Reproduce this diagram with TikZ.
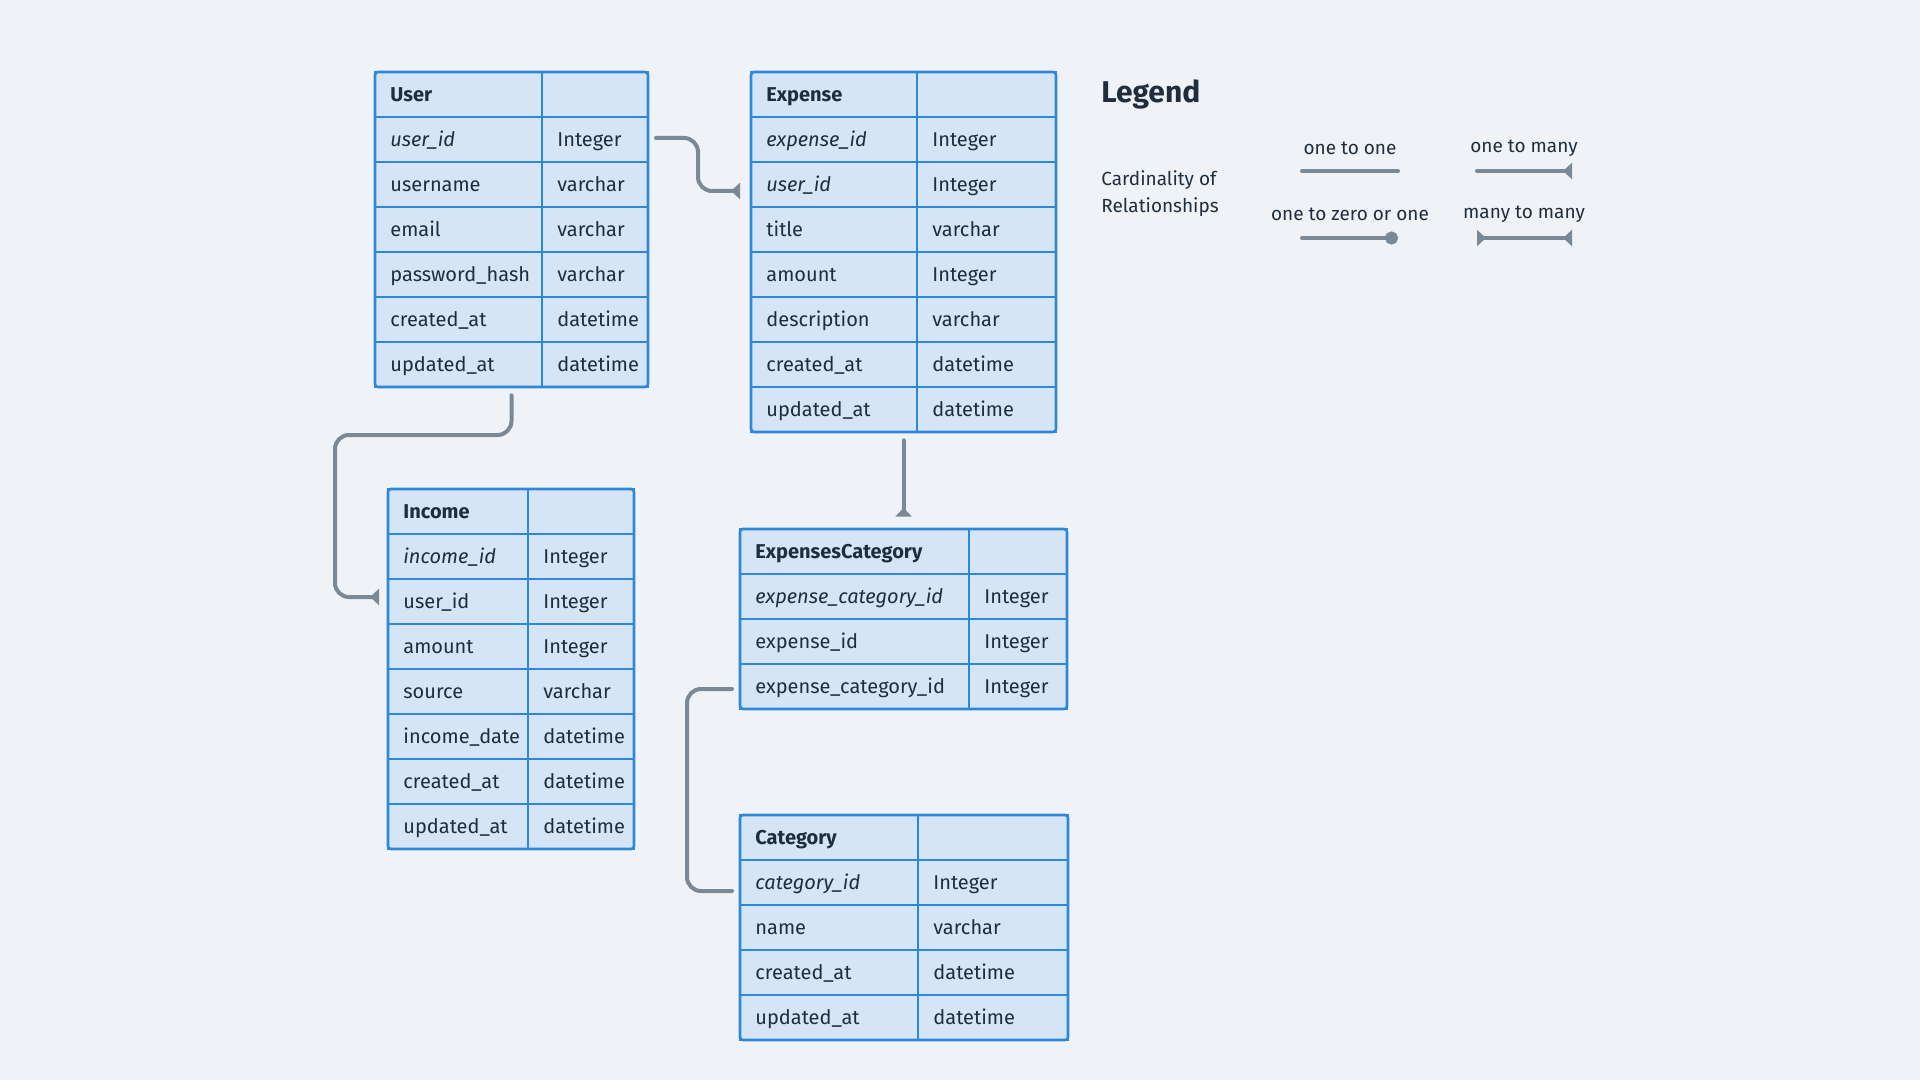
\documentclass[tikz,border=0pt]{standalone}
\usepackage{fontspec}
\setmainfont{Fira Sans}
\usetikzlibrary{arrows.meta,calc,fit}
\definecolor{bg}{HTML}{EFF3F7}
\definecolor{cellfill}{HTML}{D5E5F5}
\definecolor{cellline}{HTML}{2E88D8}
\definecolor{ink}{HTML}{1F2D3D}
\definecolor{conn}{HTML}{7B8896}
\tikzset{
  cell/.style={draw=cellline, fill=cellfill, line width=1pt, minimum height=22.5pt, inner sep=0pt, outer sep=0pt, anchor=north west},
  celltext/.style={anchor=west, inner sep=0pt, text=ink, text height=7.3pt, text depth=2.1pt, font=\fontsize{10}{12}\selectfont},
  frame/.style={draw=cellline, line width=1.3pt, rounded corners=1.5pt, inner sep=0pt},
  link/.style={draw=conn, line width=2pt, line cap=round, rounded corners=7pt},
  manytip/.tip={Triangle[reversed,length=4.5pt,width=8pt]},
  manyend/.style={-manytip},
  legtext/.style={text=ink, inner sep=0pt, font=\fontsize{9.5}{13.5}\selectfont},
}
% id, x, y, w1, w2, last index, rows
\newcommand\ertable[7]{%
  \foreach [count=\i from 0] \fa/\fb in {#7} {
    \node[cell, minimum width=#4] (#1-\i-a) at (#2, {#3+45*\i}) {};
    \node[cell, minimum width=#5] (#1-\i-b) at (#1-\i-a.north east) {};
    \node[celltext] (#1-\i-at) at ($(#1-\i-a.west)+(15,2)$) {\fa};
    \node[celltext] (#1-\i-bt) at ($(#1-\i-b.west)+(15,2)$) {\fb};
  }
  \node[frame, fit=(#1-0-a)(#1-#6-b)] (#1) {};
}
\begin{document}
\begin{tikzpicture}[x=0.5pt, y=-0.5pt]
\fill[bg] (0,0) rectangle (1920,1080);
\useasboundingbox (0,0) rectangle (1920,1080);

\ertable{User}{375}{72}{83.5pt}{53pt}{6}{%
  {\textbf{User}}/{},
  {\textit{user\_id}}/Integer,
  username/varchar,
  email/varchar,
  {password\_hash}/varchar,
  {created\_at}/datetime,
  {updated\_at}/datetime}

\ertable{Expense}{751}{72}{83pt}{69.5pt}{7}{%
  {\textbf{Expense}}/{},
  {\textit{expense\_id}}/Integer,
  {\textit{user\_id}}/Integer,
  title/varchar,
  amount/Integer,
  description/varchar,
  {created\_at}/datetime,
  {updated\_at}/datetime}

\ertable{Income}{388}{489}{70pt}{53pt}{7}{%
  {\textbf{Income}}/{},
  {\textit{income\_id}}/Integer,
  {user\_id}/Integer,
  amount/Integer,
  source/varchar,
  {income\_date}/datetime,
  {created\_at}/datetime,
  {updated\_at}/datetime}

\ertable{ExpCat}{740}{529}{114.5pt}{49pt}{3}{%
  {\textbf{ExpensesCategory}}/{},
  {\textit{expense\_category\_id}}/Integer,
  {expense\_id}/Integer,
  {expense\_category\_id}/Integer}

\ertable{Category}{740}{815}{89pt}{75pt}{4}{%
  {\textbf{Category}}/{},
  {\textit{category\_id}}/Integer,
  name/varchar,
  {created\_at}/datetime,
  {updated\_at}/datetime}

% connectors
\draw[link, manyend] ($(User-1-b.east)+(8,-1.5)$) -| ($($(User-1-b.east)+(8,-1.5)$)!0.5!($(Expense-2-a.west)+(-11,6.5)$)$) |- ($(Expense-2-a.west)+(-11,6.5)$);
\draw[link, manyend] ($(User.south)+(0,7)$) |- ($(Income-2-a.west)+(-53,-166.5)$) |- ($(Income-2-a.west)+(-9,-4.5)$);
\draw[link, manyend] ($(Expense.south)+(0,7)$) -- ($(ExpCat.north)+(0,-11)$);
\draw[link] ($(ExpCat-3-a.west)+(-8,2.5)$) -- ($(ExpCat-3-a.west)+(-53,2.5)$) |- ($(Category-1-a.west)+(-8,8.5)$);

% legend
\node[anchor=west, inner sep=0pt, text=ink, font=\bfseries\fontsize{15}{18}\selectfont] (legend) at (1101,94) {Legend};
\node[legtext, anchor=west, align=left] (card) at (1101,194) {Cardinality of\\Relationships};
\node[legtext] (lab11) at (1350,148) {one to one};
\node[legtext] (lab1m) at (1524,148) {one to many};
\node[legtext] (lab10) at (1350,214) {one to zero or one};
\node[legtext] (labmm) at (1524,214) {many to many};
\coordinate (o1a) at (1302,171); \coordinate (o1b) at (1398,171);
\coordinate (omA) at (1477,171); \coordinate (omB) at (1572,171);
\coordinate (ozA) at (1302,238); \coordinate (ozB) at (1398,238);
\coordinate (mmA) at (1477,238); \coordinate (mmB) at (1572,238);
\draw[link] (o1a) -- (o1b);
\draw[link, manyend] (omA) -- (omB);
\draw[link, -{Circle[length=6.5pt]}] (ozA) -- (ozB);
\draw[link, manytip-manytip] (mmA) -- (mmB);
\end{tikzpicture}
\end{document}
